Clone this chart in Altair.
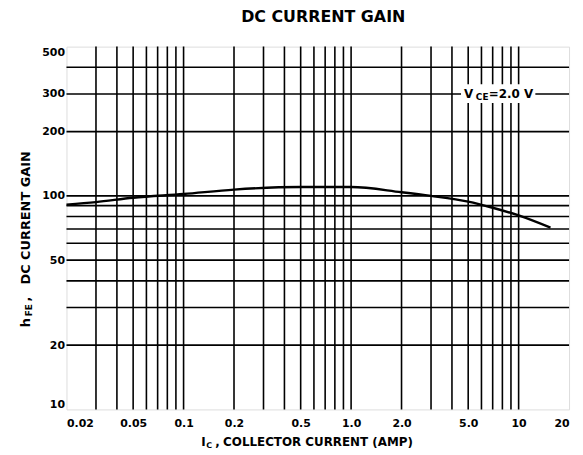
import altair as alt
import pandas as pd

# ---- data ----
ic = [0.02, 0.03, 0.05, 0.1, 0.2, 0.5, 1.0, 2.0, 3.0, 5.0, 7.0, 10.0, 15.5]
hfe = [91, 93.5, 98, 102, 107, 110, 110, 104, 100, 94, 88, 81, 71]

x_grid = [0.03, 0.04, 0.05, 0.06, 0.07, 0.08, 0.09, 0.1,
          0.2, 0.3, 0.4, 0.5, 0.6, 0.7, 0.8, 0.9, 1.0,
          2, 3, 4, 5, 6, 7, 8, 9, 10]
y_grid = [20, 30, 40, 50, 60, 70, 80, 90, 100, 200, 300, 400]
x_ticks = [0.02, 0.05, 0.1, 0.2, 0.5, 1, 2, 5, 10, 20]
y_ticks = [10, 20, 50, 100, 200, 300, 500]

FONT = "DejaVu Sans"

xs = alt.Scale(type="log", domain=[0.02, 20], nice=False)
ys = alt.Scale(type="log", domain=[10, 500], nice=False)

xaxis = alt.Axis(
    values=x_ticks,
    labelExpr="datum.value == 1 ? '1.0' : datum.value == 2 ? '2.0' : datum.value == 5 ? '5.0' : '' + datum.value",
    title=None, grid=False, ticks=False, tickSize=0, domain=False,
    labelFlush=True, labelOverlap=False, labelFont=FONT, labelFontWeight="bold",
    labelFontSize=11, labelColor="black", labelPadding=8,
)
yaxis = alt.Axis(
    values=y_ticks, format="d",
    title=None, grid=False, ticks=False, tickSize=0, domain=False,
    labelFlush=True, labelOverlap=False, labelFont=FONT, labelFontWeight="bold",
    labelFontSize=11, labelColor="black", labelPadding=2,
)

vgrid = alt.Chart(pd.DataFrame({"gx": x_grid})).mark_rule(
    color="black", strokeWidth=1.6
).encode(x=alt.X("gx:Q", scale=xs, axis=xaxis))

hgrid = alt.Chart(pd.DataFrame({"gy": y_grid})).mark_rule(
    color="black", strokeWidth=1.6
).encode(y=alt.Y("gy:Q", scale=ys, axis=yaxis))

curve = alt.Chart(pd.DataFrame({"ic": ic, "hfe": hfe})).mark_line(
    color="black", strokeWidth=2.4, interpolate="monotone"
).encode(
    x=alt.X("ic:Q", scale=xs, axis=xaxis),
    y=alt.Y("hfe:Q", scale=ys, axis=yaxis),
)

one = alt.Data(values=[{}])


def txt(t, x, y, size, angle=0, align="left", baseline="alphabetic"):
    kw = dict(text=t, font=FONT, fontWeight="bold", fontSize=size,
              color="black", align=align, baseline=baseline)
    if angle:
        kw["angle"] = angle
    return alt.Chart(one).mark_text(**kw).encode(x=alt.value(x), y=alt.value(y))


label_bg = alt.Chart(one).mark_rect(color="white").encode(
    x=alt.value(398), x2=alt.value(473), y=alt.value(38), y2=alt.value(57)
)

texts = [
    # chart title
    txt("DC CURRENT GAIN", 259, -25, 16, align="center"),
    # y title: h_FE , DC CURRENT GAIN
    txt("h", -37, 283, 13, angle=270),
    txt("FE", -35, 272, 9, angle=270),
    txt(",", -37, 257, 13, angle=270),
    txt("DC CURRENT GAIN", -37, 240, 13, angle=270),
    # x title: I_C , COLLECTOR CURRENT (AMP)
    txt("I", 136, 403, 12),
    txt("C", 141, 405, 8),
    txt(",", 150, 403, 12),
    txt("COLLECTOR CURRENT (AMP)", 158, 403, 12),
    # annotation V_CE = 2.0 V
    txt("V", 401, 52, 12),
    txt("CE", 413, 54, 9),
    txt("=2.0 V", 426, 52, 12),
]

chart = alt.layer(vgrid, hgrid, curve, label_bg, *texts).properties(
    width=507,
    height=366,
    autosize=alt.AutoSizeParams(type="none"),
    padding={"left": 59, "top": 37, "right": 6, "bottom": 42},
).configure_view(stroke="black", strokeWidth=1.8).configure(background="white")

chart.save("out.html", embed_options={"renderer": "svg", "actions": False})
